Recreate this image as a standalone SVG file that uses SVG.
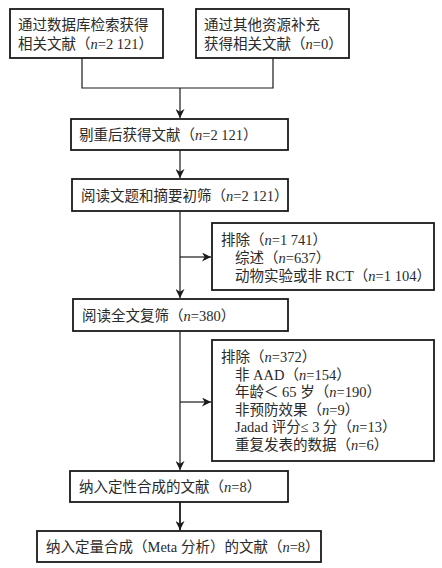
<svg xmlns="http://www.w3.org/2000/svg" width="442" height="568" viewBox="0 0 442 568">
<style>
.box{fill:#fff;stroke:#1a1a1a;stroke-width:1.8}
.ln{fill:none;stroke:#1a1a1a;stroke-width:1.2}
.thk{stroke-width:1.8}
text{font-family:"Liberation Serif","Noto Sans CJK SC",serif;font-size:14.5px;fill:#2a2a2a}
.i{font-style:italic}
</style>
<defs>
<marker id="ah" viewBox="0 0 10 10" refX="10" refY="5" markerWidth="9" markerHeight="9" markerUnits="userSpaceOnUse" orient="auto">
<path d="M0,0 L10,5 L0,10 L3,5 Z" fill="#1a1a1a"/>
</marker>
</defs>
<rect width="442" height="568" fill="#fff"/>
<g id="connectors">
<polyline class="ln" points="82,58 82,88 273,88 273,58"/>
<line class="ln" x1="180" y1="88" x2="180" y2="118" marker-end="url(#ah)"/>
<line class="ln" x1="180" y1="150" x2="180" y2="178" marker-end="url(#ah)"/>
<line class="ln" x1="180" y1="211" x2="180" y2="298" marker-end="url(#ah)"/>
<line class="ln" x1="180" y1="257" x2="211" y2="257" marker-end="url(#ah)"/>
<line class="ln" x1="180" y1="331" x2="180" y2="470" marker-end="url(#ah)"/>
<line class="ln" x1="180" y1="402" x2="211" y2="402" marker-end="url(#ah)"/>
<line class="ln thk" x1="180" y1="502" x2="180" y2="530" marker-end="url(#ah)"/>
</g>
<g id="n1">
<rect class="box" x="10" y="9" width="153" height="49"/>
<text x="18" y="30">通过数据库检索获得</text>
<text x="18" y="49">相关文献（<tspan class="i">n</tspan>=2 121）</text>
</g>
<g id="n2">
<rect class="box" x="196" y="9" width="153" height="49"/>
<text x="204" y="30">通过其他资源补充</text>
<text x="204" y="49">获得相关文献（<tspan class="i">n</tspan>=0）</text>
</g>
<g id="n3">
<rect class="box" x="71" y="119" width="217" height="31"/>
<text x="79" y="140">剔重后获得文献（<tspan class="i">n</tspan>=2 121）</text>
</g>
<g id="n4">
<rect class="box" x="72" y="179" width="216" height="32"/>
<text x="81" y="201">阅读文题和摘要初筛（<tspan class="i">n</tspan>=2 121）</text>
</g>
<g id="ex1">
<rect class="box" x="212" y="223" width="222" height="67"/>
<text x="221" y="245">排除（<tspan class="i">n</tspan>=1 741）</text>
<text x="235" y="263">综述（<tspan class="i">n</tspan>=637）</text>
<text x="235" y="281">动物实验或非 RCT（<tspan class="i">n</tspan>=1 104）</text>
</g>
<g id="n5">
<rect class="box" x="73" y="299" width="215" height="32"/>
<text x="82" y="321">阅读全文复筛（<tspan class="i">n</tspan>=380）</text>
</g>
<g id="ex2">
<rect class="box" x="212" y="340" width="222" height="121"/>
<text x="221" y="362">排除（<tspan class="i">n</tspan>=372）</text>
<text x="235" y="380">非 AAD（<tspan class="i">n</tspan>=154）</text>
<text x="235" y="397">年龄＜ 65 岁（<tspan class="i">n</tspan>=190）</text>
<text x="235" y="415">非预防效果（<tspan class="i">n</tspan>=9）</text>
<text x="235" y="432">Jadad 评分≤ 3 分（<tspan class="i">n</tspan>=13）</text>
<text x="235" y="450">重复发表的数据（<tspan class="i">n</tspan>=6）</text>
</g>
<g id="n6">
<rect class="box" x="70" y="471" width="218" height="31"/>
<text x="79" y="492">纳入定性合成的文献（<tspan class="i">n</tspan>=8）</text>
</g>
<g id="n7">
<rect class="box" x="37" y="531" width="284" height="31"/>
<text x="46" y="552">纳入定量合成（Meta 分析）的文献（<tspan class="i">n</tspan>=8）</text>
</g>
</svg>
